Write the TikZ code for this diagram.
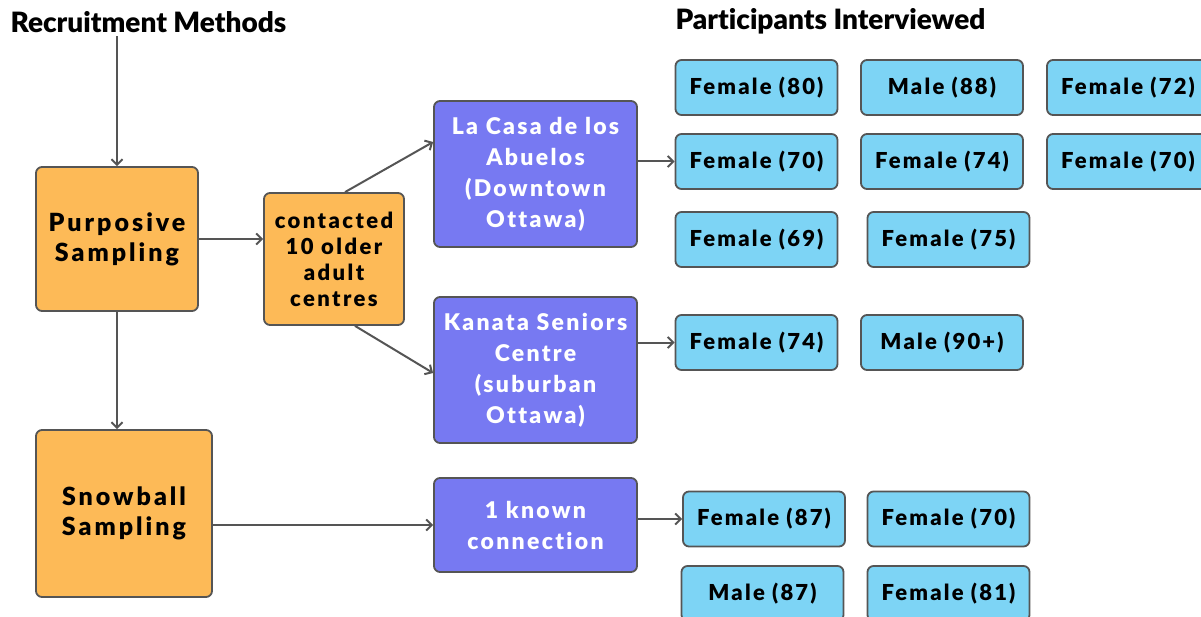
\documentclass[tikz,border=0pt]{standalone}
\usepackage{fontspec}
\setmainfont{Lato}[BoldFont={Lato Black}, Ligatures={NoCommon}]
\usetikzlibrary{arrows.meta}
\definecolor{orangebox}{HTML}{FDBA57}
\definecolor{purplebox}{HTML}{7779F2}
\definecolor{bluebox}{HTML}{7DD4F5}
\definecolor{edgegray}{HTML}{555555}
\tikzset{
  box/.style={draw=edgegray, line width=1.8pt, rounded corners=6pt, align=center,
    font=\fontsize{25}{30}\selectfont\bfseries\addfontfeature{LetterSpace=12}},
  methodbox/.style={box, fill=orangebox, text=black},
  sitebox/.style={box, fill=purplebox, text=white, minimum width=203pt,
    font=\fontsize{23}{31}\selectfont\bfseries\addfontfeature{LetterSpace=10}},
  personbox/.style={box, fill=bluebox, text=black, minimum width=162pt, minimum height=55pt,
    font=\fontsize{22}{24}\selectfont\bfseries\addfontfeature{LetterSpace=10}},
  arr/.style={draw=edgegray, line width=2pt, -{Straight Barb[length=5.5pt,width=11pt]}},
  heading/.style={anchor=west, font=\fontsize{28}{30}\selectfont\bfseries}
}
\begin{document}
\begin{tikzpicture}[x=1pt, y=-1pt]
	\useasboundingbox (0,0) rectangle (1201,617);
	\clip (0,0) rectangle (1201,617);
	% headings
	\node[heading] (title) at (7,22) {Recruitment Methods};
	\node[heading] (part) at (672,21) {Participants Interviewed};
	% recruitment methods
	\node[methodbox, minimum width=162pt, minimum height=144pt] (purp) at (117,239) {Purposive\\Sampling};
	\node[methodbox, minimum width=176pt, minimum height=167pt] (snow) at (124,513.5) {Snowball\\Sampling};
	\node[methodbox, minimum width=140pt, minimum height=132pt, inner sep=0pt,
	  font=\fontsize{22}{26}\selectfont\bfseries\addfontfeature{LetterSpace=11}] (cont) at (334,259) {contacted\\10 older\\adult\\centres};
	% sites
	\node[sitebox, minimum height=146pt] (casa) at (535.5,174) {La Casa de los\\Abuelos\\(Downtown\\Ottawa)};
	\node[sitebox, minimum height=146pt] (kan) at (535.5,370) {Kanata Seniors\\Centre\\(suburban\\Ottawa)};
	\node[sitebox, minimum height=94pt] (known) at (535.5,525) {1 known\\connection};
	% participants
	\foreach \x/\y/\txt/\nm in {756.5/87.5/Female (80)/pa, 942/87.5/Male (88)/pb, 1128/87.5/Female (72)/pc,
	  756.5/161.5/Female (70)/pd, 942/161.5/Female (74)/pe, 1128/161.5/Female (70)/pf,
	  756.5/239.5/Female (69)/pg, 948.5/239.5/Female (75)/ph,
	  756.5/342.5/Female (74)/pi, 942/342.5/Male (90+)/pj,
	  764/519/Female (87)/pk, 948.5/519/Female (70)/pl,
	  762.5/593.5/Male (87)/pm, 948.5/593.5/Female (81)/pn}
	{
		\node[personbox] (\nm) at (\x,\y) {\txt};
	}
	% connectors
	\draw[arr] (title.south -| purp.north) -- (purp.north);
	\draw[arr] (purp.south) -- (snow.north -| purp.south);
	\draw[arr] (purp.east) -- (purp.east -| cont.west);
	\draw[arr] ([xshift=11pt]cont.north) -- ([yshift=32pt]casa.west);
	\draw[arr] ([xshift=21pt]cont.south) -- ([yshift=-3pt]kan.west);
	\draw[arr] (snow.east |- known.west) -- (known.west);
	\draw[arr] (casa.east |- pd.west) -- (pd.west);
	\draw[arr] (kan.east |- pi.west) -- (pi.west);
	\draw[arr] (known.east |- pk.west) -- (pk.west);
\end{tikzpicture}
\end{document}
